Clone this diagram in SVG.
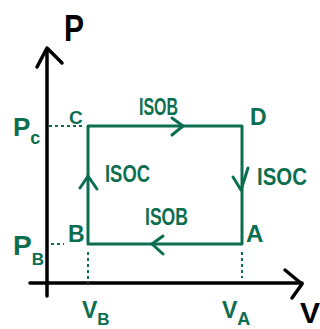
<svg xmlns="http://www.w3.org/2000/svg" width="320" height="329" viewBox="0 0 320 329">
<style>
.ax{stroke:#000;stroke-width:3.5;fill:none;stroke-linecap:round;stroke-linejoin:round}
.g{stroke:#0b6e4f;stroke-width:3;fill:none;stroke-linecap:round;stroke-linejoin:round}
.d{stroke:#0b6e4f;stroke-width:2;fill:none;stroke-dasharray:3 3}
.t{font-family:"Liberation Sans",Arial,sans-serif;font-weight:bold;fill:#0b6e4f}
.k{font-family:"Liberation Sans",Arial,sans-serif;font-weight:bold;fill:#000}
</style>
<rect width="320" height="329" fill="#fff"/>
<g id="axes">
<path class="ax" d="M47,50 V296 M30,283 H302"/>
<path class="ax" d="M37,67 L47,48 L62,63"/>
<path class="ax" d="M285,270 L302,284 L292,298"/>
<text class="k" x="64" y="41" font-size="36" textLength="20" lengthAdjust="spacingAndGlyphs">P</text>
<text class="k" x="300" y="323" font-size="30">V</text>
</g>
<g id="connectors">
<path class="g" d="M88,126 H242 V244 H88 Z"/>
<path class="g" d="M172,118 L183,126 L172,135"/>
<path class="g" d="M80,188 L88,176 L97,189"/>
<path class="g" d="M233,177 L241,190 L248,168"/>
<path class="g" d="M163,236 L152,244 L163,254"/>
<path class="d" d="M49,126 H82"/>
<path class="d" d="M51,244 H64"/>
<path class="d" d="M88,252 V283"/>
<path class="d" d="M242,252 V278"/>
<text class="t" x="139" y="115" font-size="24" textLength="39" lengthAdjust="spacingAndGlyphs">ISOB</text>
<text class="t" x="105" y="182" font-size="24" textLength="45" lengthAdjust="spacingAndGlyphs">ISOC</text>
<text class="t" x="257" y="185" font-size="24" textLength="50" lengthAdjust="spacingAndGlyphs">ISOC</text>
<text class="t" x="145" y="225" font-size="24" textLength="43" lengthAdjust="spacingAndGlyphs">ISOB</text>
</g>
<g id="C"><text class="t" x="69" y="124" font-size="19">C</text></g>
<g id="D"><text class="t" x="250" y="125" font-size="23">D</text></g>
<g id="B"><text class="t" x="68" y="242" font-size="23">B</text></g>
<g id="A"><text class="t" x="246" y="242" font-size="24">A</text></g>
<g id="Pc"><text class="t" x="13" y="136" font-size="26">P<tspan font-size="18" dy="8">c</tspan></text></g>
<g id="PB"><text class="t" x="13" y="255" font-size="28">P<tspan font-size="17" dy="10">B</tspan></text></g>
<g id="VB"><text class="t" x="82" y="318" font-size="23">V<tspan font-size="17" dy="7">B</tspan></text></g>
<g id="VA"><text class="t" x="222" y="318" font-size="23">V<tspan font-size="18" dy="7">A</tspan></text></g>
</svg>
